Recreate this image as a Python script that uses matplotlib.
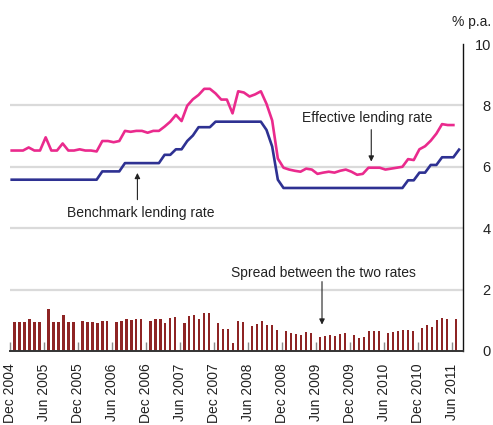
import matplotlib
matplotlib.use('Agg')
import matplotlib.pyplot as plt
import numpy as np

# ---- data (monthly, Dec 2004 onwards) ----
tick_labels = ["Dec 2004", "Jun 2005", "Dec 2005", "Jun 2006", "Dec 2006", "Jun 2007",
               "Dec 2007", "Jun 2008", "Dec 2008", "Jun 2009", "Dec 2009", "Jun 2010",
               "Dec 2010", "Jun 2011"]

benchmark = [5.58] * 16 + [5.85] * 4 + [6.12] * 7 + [6.39] * 2 + [6.57] * 2 + [6.84, 7.02] \
    + [7.29] * 3 + [7.47] * 9 + [7.20, 6.66, 5.58] + [5.31] * 22 + [5.56] * 2 + [5.81] * 2 \
    + [6.06] * 2 + [6.31] * 3 + [6.56]

effective = [6.53, 6.53, 6.53, 6.63, 6.53, 6.53,
             6.96, 6.53, 6.53, 6.76, 6.53, 6.53,
             6.57, 6.53, 6.53, 6.50, 6.84, 6.84,
             6.80, 6.84, 7.17, 7.14, 7.17, 7.17,
             7.11, 7.17, 7.17, 7.31, 7.47, 7.69,
             7.49, 7.99, 8.20, 8.34, 8.54, 8.54,
             8.39, 8.19, 8.19, 7.74, 8.46, 8.42,
             8.29, 8.36, 8.46, 8.05, 7.51, 6.27,
             5.97, 5.91, 5.87, 5.84, 5.94, 5.91,
             5.77, 5.81, 5.84, 5.81, 5.87, 5.91,
             5.84, 5.74, 5.77, 5.97, 5.97, 5.97,
             5.91, 5.94, 5.97, 6.00, 6.25, 6.22,
             6.57, 6.67, 6.85, 7.08, 7.39, 7.36,
             7.36]

spread = [0.95, 0.95, 0.95, 1.05, 0.95, 0.95,
          1.38, 0.95, 0.95, 1.18, 0.95, 0.95,
          0.99, 0.95, 0.95, 0.92, 0.99, 0.99,
          0.95, 0.99, 1.05, 1.02, 1.05, 1.05,
          0.99, 1.05, 1.05, 0.92, 1.08, 1.12,
          0.92, 1.15, 1.18, 1.05, 1.25, 1.25,
          0.92, 0.72, 0.72, 0.27, 0.99, 0.95,
          0.82, 0.89, 0.99, 0.85, 0.85, 0.69,
          0.66, 0.60, 0.56, 0.53, 0.63, 0.60,
          0.46, 0.50, 0.53, 0.50, 0.56, 0.60,
          0.53, 0.43, 0.46, 0.66, 0.66, 0.66,
          0.60, 0.63, 0.66, 0.69, 0.69, 0.66,
          0.76, 0.86, 0.79, 1.02, 1.08, 1.05,
          1.05]

plt.rcParams['font.family'] = ['Liberation Sans', 'DejaVu Sans']
TXT = '#222222'

fig = plt.figure(figsize=(4.93, 4.25), dpi=100)
ax = fig.add_axes([10 / 493, 74 / 425, 453 / 493, 307 / 425])
ax.set_xlim(0, 80)
ax.set_ylim(0, 10)

for g in [2, 4, 6, 8]:
    ax.axhline(g, color='#dadada', lw=1.6, zorder=0)

k = np.arange(len(spread))
bar_x = 6 * (k // 6) + 0.76 + 0.88 * (k % 6)
ax.bar(bar_x, spread, width=0.47, color='#8e2424', zorder=2)

ax.plot(np.arange(len(effective)) + 0.3, effective, color='#ea2a8d', lw=1.9, zorder=3)
ax.plot(np.arange(len(benchmark)) + 0.3, benchmark, color='#2e3192', lw=1.9, zorder=3)

# spines
ax.spines['left'].set_visible(False)
ax.spines['top'].set_visible(False)
ax.spines['right'].set_color('#111111')
ax.spines['right'].set_linewidth(1.0)
ax.spines['bottom'].set_color('#333333')
ax.spines['bottom'].set_linewidth(1.4)

# x axis
ax.set_xticks(np.arange(0, 6 * len(tick_labels), 6))
ax.set_xticklabels(tick_labels, rotation=90, va='top', ha='center')
ax.tick_params(axis='x', direction='in', length=6.5, width=1.0, color='#888888',
               pad=9, labelsize=10, labelcolor=TXT)

# y axis on right
ax.yaxis.tick_right()
ax.set_yticks([0, 2, 4, 6, 8, 10])
ax.set_yticklabels(['0', '2', '4', '6', '8', '10'])
ax.tick_params(axis='y', length=0, pad=20, labelsize=10.5, labelcolor=TXT)
for lab in ax.get_yticklabels():
    lab.set_horizontalalignment('right')

fig.text(491 / 493, 1 - 22 / 425, '% p.a.', ha='right', va='center', fontsize=10, color=TXT)

arrow = dict(arrowstyle='-|>', color='#222222', lw=0.8, mutation_scale=8, shrinkA=0, shrinkB=0)
ax.text(63.05, 7.6, 'Effective lending rate', ha='center', va='center', fontsize=10, color=TXT)
ax.annotate('', xy=(63.8, 6.17), xytext=(63.8, 7.21), arrowprops=arrow)

ax.text(23.1, 4.5, 'Benchmark lending rate', ha='center', va='center', fontsize=10, color=TXT)
ax.annotate('', xy=(22.5, 5.8), xytext=(22.5, 4.93), arrowprops=arrow)

ax.text(55.3, 2.55, 'Spread between the two rates', ha='center', va='center', fontsize=10, color=TXT)
ax.annotate('', xy=(55.1, 0.86), xytext=(55.1, 2.26), arrowprops=arrow)

fig.savefig('out.png', dpi=100)
